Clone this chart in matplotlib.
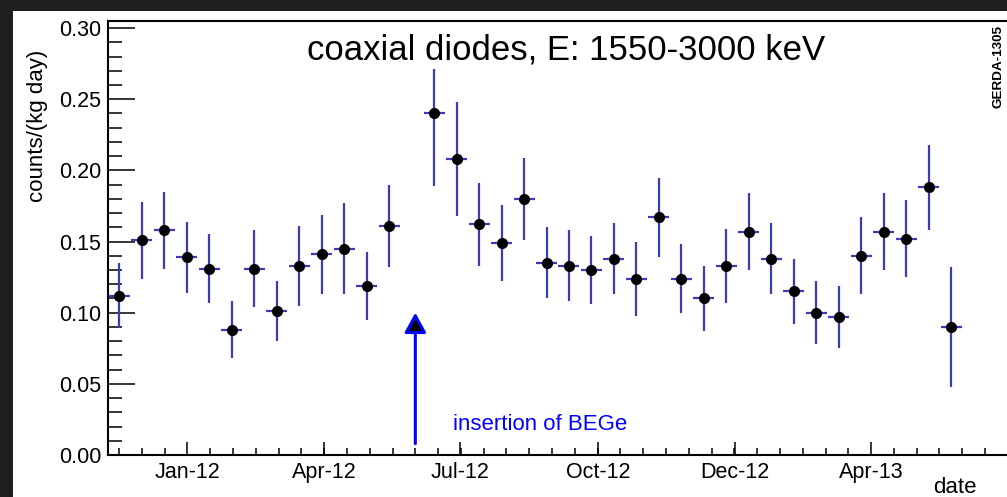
import numpy as np
import pandas as pd
import matplotlib
matplotlib.use("Agg")
import matplotlib.pyplot as plt
import matplotlib.dates as mdates
from matplotlib.patches import Rectangle, FancyArrowPatch
from matplotlib.ticker import FixedLocator, MultipleLocator, FormatStrFormatter

# 15-day bins (centres); the bin starting 2012-05-22 has no data
bin_centers = [
    "2011-11-16 12:00", "2011-12-01 12:00", "2011-12-16 12:00", "2011-12-31 12:00",
    "2012-01-15 12:00", "2012-01-30 12:00", "2012-02-14 12:00", "2012-02-29 12:00",
    "2012-03-15 12:00", "2012-03-30 12:00", "2012-04-14 12:00", "2012-04-29 12:00",
    "2012-05-14 12:00",
    "2012-06-13 12:00", "2012-06-28 12:00", "2012-07-13 12:00", "2012-07-28 12:00",
    "2012-08-12 12:00", "2012-08-27 12:00", "2012-09-11 12:00", "2012-09-26 12:00",
    "2012-10-11 12:00", "2012-10-26 12:00", "2012-11-10 12:00", "2012-11-25 12:00",
    "2012-12-10 12:00", "2012-12-25 12:00", "2013-01-09 12:00", "2013-01-24 12:00",
    "2013-02-08 12:00", "2013-02-23 12:00", "2013-03-10 12:00", "2013-03-25 12:00",
    "2013-04-09 12:00", "2013-04-24 12:00", "2013-05-09 12:00", "2013-05-24 12:00",
]
rate = [
    0.112, 0.151, 0.158, 0.139, 0.131, 0.088, 0.131, 0.101, 0.133, 0.141, 0.145, 0.119,
    0.161,
    0.240, 0.208, 0.162, 0.149, 0.180, 0.135, 0.133, 0.130, 0.138, 0.124, 0.167, 0.124,
    0.110, 0.133, 0.157, 0.138, 0.115, 0.100, 0.097, 0.140, 0.157, 0.152, 0.188, 0.090,
]
err_low = [
    0.023, 0.027, 0.027, 0.025, 0.024, 0.020, 0.027, 0.021, 0.028, 0.028, 0.032, 0.024,
    0.029,
    0.051, 0.040, 0.029, 0.027, 0.029, 0.025, 0.025, 0.024, 0.025, 0.026, 0.028, 0.024,
    0.023, 0.026, 0.027, 0.025, 0.023, 0.022, 0.022, 0.027, 0.027, 0.027, 0.030, 0.042,
]
err_high = [
    0.023, 0.027, 0.027, 0.025, 0.024, 0.020, 0.027, 0.021, 0.028, 0.028, 0.032, 0.024,
    0.029,
    0.031, 0.040, 0.029, 0.027, 0.029, 0.025, 0.025, 0.024, 0.025, 0.026, 0.028, 0.024,
    0.023, 0.026, 0.027, 0.025, 0.023, 0.022, 0.022, 0.027, 0.027, 0.027, 0.030, 0.042,
]
bin_half_width_days = 7.0

tick_dates = ["2012-01-01", "2012-04-01", "2012-07-01", "2012-10-01", "2012-12-31", "2013-04-01"]
tick_labels = ["Jan-12", "Apr-12", "Jul-12", "Oct-12", "Dec-12", "Apr-13"]
x_range = ("2011-11-09", "2013-07-02")
y_range = (0.0, 0.305)

bege_date = "2012-06-01"
bege_arrow_y = (0.008, 0.100)

plt.rcParams["font.family"] = ["Liberation Sans", "DejaVu Sans"]

W, H = 1007, 497
fig = plt.figure(figsize=(W / 100, H / 100), dpi=100, facecolor="#1e1e1e")
fig.patches.append(Rectangle((13 / W, 0), 1 - 13 / W, (H - 11) / H,
                             transform=fig.transFigure, facecolor="white",
                             edgecolor="none", zorder=-1))

ax = fig.add_axes([108 / W, 42 / H, 901 / W, 434 / H])
ax.set_facecolor("white")

x = mdates.date2num(pd.to_datetime(bin_centers))
ax.errorbar(x, rate, yerr=[err_low, err_high], xerr=bin_half_width_days,
            fmt="o", color="black", ms=7, ecolor="#3b3bb8", elinewidth=1.6,
            capsize=0, zorder=3)

xlim = mdates.date2num(pd.to_datetime(list(x_range)))
ax.set_xlim(*xlim)
ax.set_ylim(*y_range)

# time axis: labelled major ticks, six subdivisions each
major = mdates.date2num(pd.to_datetime(tick_dates))
ax.set_xticks(major, tick_labels)
step = (major[-1] - major[0]) / 30.0
minor = major[0] + step * np.arange(-6, 40)
minor = minor[(minor > xlim[0]) & (minor < xlim[1])]
ax.xaxis.set_minor_locator(FixedLocator(minor))

ax.yaxis.set_major_locator(MultipleLocator(0.05))
ax.yaxis.set_minor_locator(MultipleLocator(0.01))
ax.yaxis.set_major_formatter(FormatStrFormatter("%.2f"))

ax.tick_params(axis="x", which="major", direction="in", length=9.5, width=1.1,
               labelsize=15.5, pad=5, top=False, colors="black")
ax.tick_params(axis="x", which="minor", direction="in", length=5, width=1.1, top=False)
ax.tick_params(axis="y", which="major", direction="in", length=19.5, width=1.1,
               labelsize=15.5, pad=5, right=False)
ax.tick_params(axis="y", which="minor", direction="in", length=10, width=1.1, right=False)

for side in ("left", "bottom", "top"):
    ax.spines[side].set_linewidth(1.5)
    ax.spines[side].set_color("black")
ax.spines["right"].set_visible(False)

# BEGe insertion marker
xa = mdates.date2num(pd.to_datetime(bege_date))
arrow = FancyArrowPatch((xa, bege_arrow_y[0]), (xa, bege_arrow_y[1]),
                        arrowstyle="-|>,head_length=0.6,head_width=0.33",
                        mutation_scale=20, edgecolor="#0000ff", facecolor="black",
                        linewidth=2.2, shrinkA=0, shrinkB=0, zorder=4)
ax.add_patch(arrow)
fig.text(453 / W, 1 - 430 / H, "insertion of BEGe", color="#0000ff",
         ha="left", va="baseline", fontsize=16)

fig.text(566 / W, 1 - 60 / H, "coaxial diodes, E: 1550-3000 keV",
         ha="center", va="baseline", fontsize=25)
fig.text(38 / W, 1 - 126 / H, "counts/(kg day)", rotation=90,
         ha="center", va="center", fontsize=16)
fig.text(977 / W, 1 - 493 / H, "date", ha="right", va="baseline", fontsize=16)
fig.text(999 / W, 1 - 25 / H, "GERDA-1305", rotation=90, ha="center", va="top",
         fontsize=9.7, fontweight="bold")

fig.savefig("out.png", dpi=100, facecolor=fig.get_facecolor())
